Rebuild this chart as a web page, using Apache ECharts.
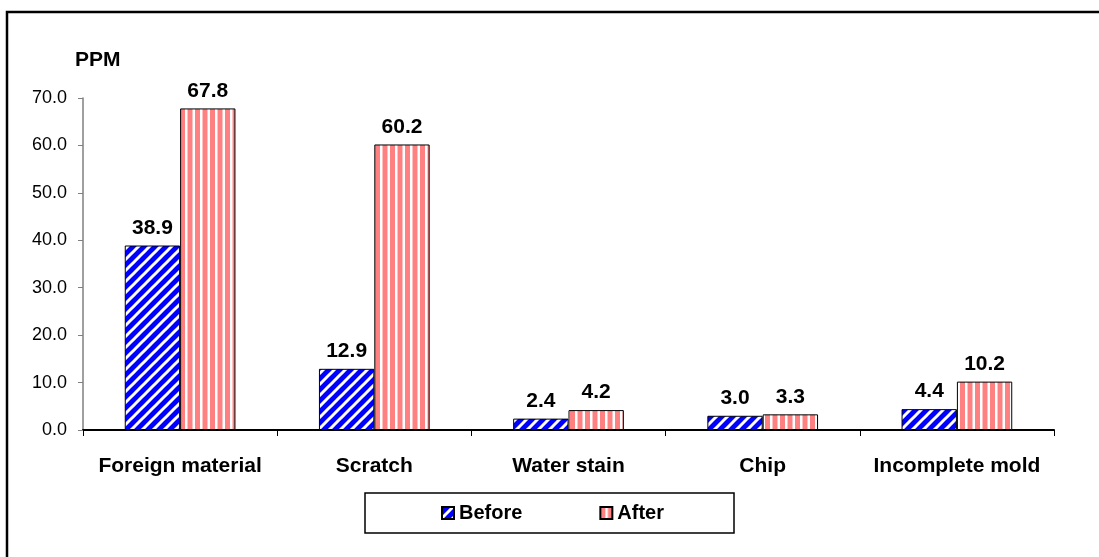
<!DOCTYPE html>
<html>
<head>
<meta charset="utf-8">
<script src="https://cdn.jsdelivr.net/npm/echarts@6/dist/echarts.min.js"></script>
<style>
html,body{margin:0;padding:0;background:#fff;}
#chart{width:1099px;height:557px;}
</style>
</head>
<body>
<div id="chart"></div>
<script>
const categories = ['Foreign material', 'Scratch', 'Water stain', 'Chip', 'Incomplete mold'];
const beforeValues = [38.9, 12.9, 2.4, 3.0, 4.4];
const afterValues = [67.8, 60.2, 4.2, 3.3, 10.2];
const seriesNames = ['Before', 'After'];
const yTicks = { min: 0, max: 70, interval: 10 };
const yUnit = 'PPM';

function diagPattern() {
  const n = 11;
  const c = document.createElement('canvas');
  c.width = n; c.height = n;
  const g = c.getContext('2d');
  g.fillStyle = '#0000FF';
  g.fillRect(0, 0, n, n);
  g.strokeStyle = '#FFFFFF';
  g.lineWidth = 3;
  for (let k = -1; k <= 1; k++) {
    g.beginPath();
    g.moveTo(-2 + k * n, n + 2);
    g.lineTo(n + 2 + k * n, -2);
    g.stroke();
  }
  return c;
}
function vertPattern() {
  const c = document.createElement('canvas');
  c.width = 15; c.height = 4;
  const g = c.getContext('2d');
  g.fillStyle = '#FF8080';
  g.fillRect(0, 0, 15, 4);
  g.fillStyle = '#FFFFFF';
  g.fillRect(5, 0, 2.5, 4);
  g.fillRect(12.5, 0, 2.5, 4);
  return c;
}

const FONT = '"Liberation Sans", Arial, sans-serif';
const chart = echarts.init(document.getElementById('chart'), null, { renderer: 'canvas' });

const labelStyle = {
  show: true, position: 'top', distance: 7,
  fontFamily: FONT, fontWeight: 'bold', fontSize: 21, color: '#000',
  formatter: p => p.value.toFixed(1)
};

chart.setOption({
  animation: false,
  backgroundColor: '#fff',
  grid: { left: 83, right: 45, top: 98, bottom: 127, containLabel: false },
  graphic: [
    { type: 'rect', shape: { x: 7, y: 12, width: 1200, height: 700 },
      style: { fill: 'none', stroke: '#000', lineWidth: 2.5 }, z: 100 },
    { type: 'rect', shape: { x: 365, y: 493, width: 369, height: 40 },
      style: { fill: 'none', stroke: '#000', lineWidth: 1.5 }, z: 100 },
    { type: 'text', left: 75, top: 50,
      style: { text: yUnit, fontFamily: FONT, fontWeight: 'bold', fontSize: 21, fill: '#000' } }
  ],
  legend: {
    data: seriesNames,
    left: 441, top: 503,
    itemWidth: 12, itemHeight: 12, itemGap: 77,
    icon: 'rect',
    textStyle: { fontFamily: FONT, fontWeight: 'bold', fontSize: 20, color: '#000' },
    padding: 0
  },
  xAxis: {
    type: 'category',
    data: categories,
    axisLine: { lineStyle: { color: '#000', width: 2 } },
    axisTick: { show: true, interval: 0, length: 6, lineStyle: { color: '#000' } },
    axisLabel: { interval: 0, margin: 26, fontFamily: FONT, fontWeight: 'bold', fontSize: 21, color: '#000' }
  },
  yAxis: {
    type: 'value',
    min: yTicks.min, max: yTicks.max, interval: yTicks.interval,
    axisLine: { show: true, lineStyle: { color: '#808080', width: 1.5 } },
    axisTick: { show: true, length: 5, lineStyle: { color: '#808080' } },
    splitLine: { show: false },
    axisLabel: { margin: 16, fontFamily: FONT, fontSize: 18, color: '#000',
      formatter: v => v.toFixed(1) }
  },
  series: [
    {
      name: seriesNames[0], type: 'bar', data: beforeValues,
      barGap: '0%', barCategoryGap: '43%',
      itemStyle: { color: { image: diagPattern(), repeat: 'repeat' }, borderColor: '#000', borderWidth: 1 },
      label: labelStyle
    },
    {
      name: seriesNames[1], type: 'bar', data: afterValues,
      barGap: '0%', barCategoryGap: '43%',
      itemStyle: { color: { image: vertPattern(), repeat: 'repeat' }, borderColor: '#000', borderWidth: 1 },
      label: labelStyle
    }
  ]
});
</script>
</body>
</html>
